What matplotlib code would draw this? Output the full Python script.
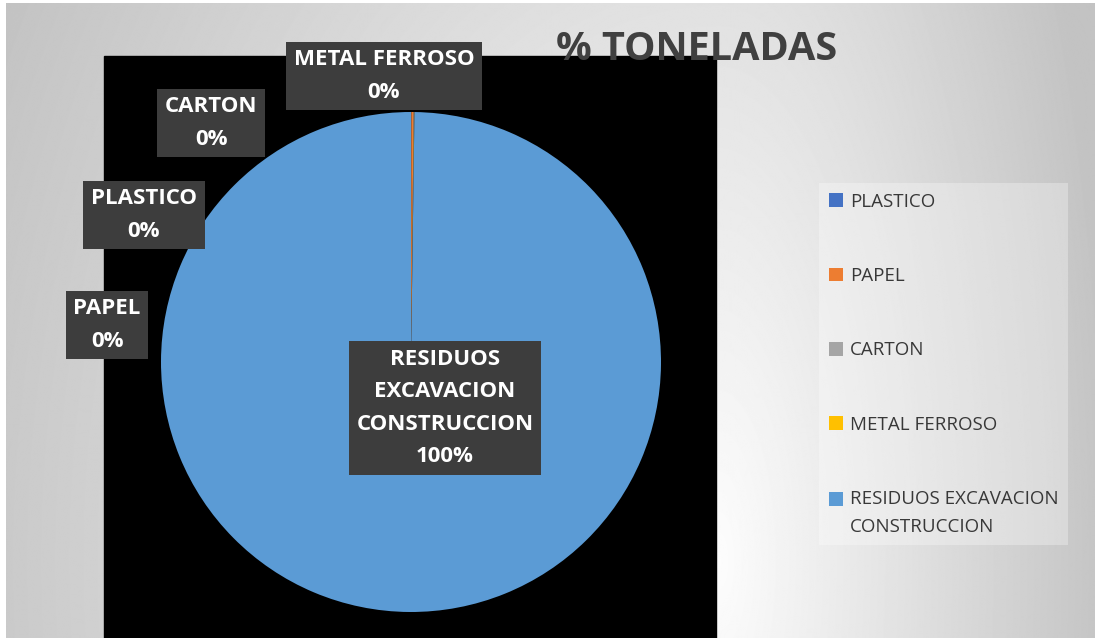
import numpy as np
import matplotlib.pyplot as plt
from matplotlib.patches import Rectangle, Patch
from matplotlib.legend_handler import HandlerPatch

# data
categories = ["PLASTICO", "PAPEL", "CARTON", "METAL FERROSO", "RESIDUOS EXCAVACION CONSTRUCCION"]
toneladas = [0.02, 0.15, 0.03, 0.02, 99.78]
colors = ["#4472C4", "#ED7D31", "#A5A5A5", "#FFC000", "#5B9BD5"]
label_text = ["PLASTICO", "PAPEL", "CARTON", "METAL FERROSO", "RESIDUOS\nEXCAVACION\nCONSTRUCCION"]
legend_text = ["PLASTICO", "PAPEL", "CARTON", "METAL FERROSO", "RESIDUOS EXCAVACION\nCONSTRUCCION"]

W, H = 1095, 638
fig = plt.figure(figsize=(W / 100, H / 100), dpi=100)
fig.patch.set_facecolor("white")

# background gradient (light near the bottom middle, grey at the corners)
bg = fig.add_axes([6 / W, 0, 1 - 6 / W, 1 - 3 / H], zorder=0)
yy, xx = np.mgrid[0:H, 0:W]
dx = xx - 716.0
a = np.where(dx > 0, 1750.0, 3600.0)
d = np.sqrt((dx / a) ** 2 + ((yy - 560.0) / 5200.0) ** 2)
shade = np.clip(0.99 - d, 0.765, 0.99)
bg.imshow(shade, cmap="gray", vmin=0, vmax=1, aspect="auto")
bg.axis("off")

# black plot area
fig.patches.append(Rectangle((104 / W, 0), (716 - 104) / W, (H - 56) / H,
                             transform=fig.transFigure, color="black", zorder=1))

# pie
cx, cy, r = 411, 362, 250
ax = fig.add_axes([(cx - r) / W, (H - cy - r) / H, 2 * r / W, 2 * r / H], zorder=2)
ax.pie(toneladas, colors=colors, startangle=90, counterclock=False, radius=1,
       wedgeprops=dict(linewidth=0))
ax.set_xlim(-1, 1)
ax.set_ylim(-1, 1)
ax.axis("off")

pct = [v / sum(toneladas) * 100 for v in toneladas]
label_pos = [(144, 215), (107, 325), (211, 123), (384, 76), (445, 408)]
for txt, p, (px, py) in zip(label_text, pct, label_pos):
    ax.text((px - cx) / r, (cy - py) / r, f"{txt}\n{p:.0f}%",
            ha="center", va="center", color="white", fontsize=16,
            fontweight="bold", family="Open Sans", linespacing=1.7,
            bbox=dict(boxstyle="square,pad=0.35", facecolor="#3d3d3d",
                      edgecolor="none"))

# title
fig.text(697 / W, 1 - 50 / H, "% TONELADAS", ha="center", va="center",
         fontsize=28.5, fontweight="bold", family="Open Sans", color="#404040", zorder=5)


# legend (square of the two-line entry sits on its first line)
def first_line_patch(legend, orig_handle, xdescent, ydescent, width, height, fontsize):
    return Rectangle((-xdescent, -ydescent + 10), width, height)


handles = [Patch(facecolor=c, edgecolor="none") for c in colors]
leg = fig.legend(handles, legend_text, loc="upper left",
                 bbox_to_anchor=(810 / W, 1 - 174 / H), frameon=True,
                 prop=dict(family="Open Sans", size=13.5), labelcolor="#383838",
                 handlelength=0.75, handleheight=0.75, handletextpad=0.4,
                 labelspacing=3.0, borderpad=0.5,
                 handler_map={handles[-1]: HandlerPatch(patch_func=first_line_patch)})
for t in leg.get_texts():
    t.set_linespacing(1.7)
leg.get_frame().set_facecolor("white")
leg.get_frame().set_alpha(0.3)
leg.get_frame().set_edgecolor("none")
leg.get_frame().set_boxstyle("square", pad=0)

fig.savefig("out.png", dpi=100)
